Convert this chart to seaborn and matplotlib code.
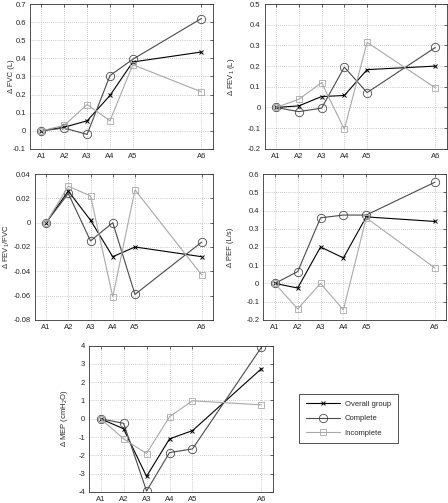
import numpy as np
import pandas as pd
import seaborn as sns
import matplotlib.pyplot as plt
from matplotlib.ticker import FuncFormatter

# visit positions (A6 sits further out on the time axis)
visits = ["A1", "A2", "A3", "A4", "A5", "A6"]
visit_pos = [1, 2, 3, 4, 5, 8]
groups = ["Overall group", "Complete", "Incomplete"]

fvc_overall = [0, 0.02, 0.055, 0.195, 0.38, 0.435]
fvc_complete = [0, 0.015, -0.02, 0.305, 0.395, 0.62]
fvc_incomplete = [0, 0.03, 0.145, 0.055, 0.365, 0.215]

fev1_overall = [0, 0.008, 0.053, 0.058, 0.183, 0.20]
fev1_complete = [0, -0.02, -0.003, 0.195, 0.072, 0.29]
fev1_incomplete = [0, 0.04, 0.12, -0.105, 0.315, 0.095]

ratio_overall = [0, 0.026, 0.002, -0.028, -0.020, -0.028]
ratio_complete = [0, 0.024, -0.015, 0.0, -0.059, -0.016]
ratio_incomplete = [0, 0.030, 0.022, -0.061, 0.027, -0.043]

pef_overall = [0, -0.025, 0.20, 0.14, 0.365, 0.34]
pef_complete = [0, 0.065, 0.36, 0.375, 0.375, 0.555]
pef_incomplete = [0, -0.14, 0.0, -0.145, 0.36, 0.085]

mep_overall = [0, -0.55, -3.15, -1.1, -0.65, 2.73]
mep_complete = [0, -0.25, -3.95, -1.85, -1.65, 3.9]
mep_incomplete = [0, -1.1, -1.9, 0.11, 0.98, 0.76]

panels = [
    ("Δ FVC (L)", [fvc_overall, fvc_complete, fvc_incomplete], (-0.1, 0.7), 0.1),
    ("Δ FEV$_1$ (L)", [fev1_overall, fev1_complete, fev1_incomplete], (-0.2, 0.5), 0.1),
    ("Δ FEV$_1$/FVC", [ratio_overall, ratio_complete, ratio_incomplete], (-0.08, 0.04), 0.02),
    ("Δ PEF (L/s)", [pef_overall, pef_complete, pef_incomplete], (-0.2, 0.6), 0.1),
    ("Δ MEP (cmH$_2$O)", [mep_overall, mep_complete, mep_incomplete], (-4, 4), 1),
]

# axes rectangles in figure fractions, and y-label x offsets (axes fraction)
rects = [
    (0.067, 0.704, 0.408, 0.288),
    (0.591, 0.704, 0.406, 0.288),
    (0.078, 0.364, 0.397, 0.290),
    (0.588, 0.364, 0.408, 0.290),
    (0.199, 0.022, 0.410, 0.291),
]
label_x = [-0.082, -0.151, -0.13, -0.16, -0.103]

styles = {
    "Overall group": dict(color="black", marker="x", markersize=3.5,
                          markeredgewidth=0.7, markeredgecolor="black"),
    "Complete": dict(color="#4a4a4a", marker="o", markersize=6, markeredgewidth=0.6,
                     markeredgecolor="#4a4a4a", markerfacecolor="none"),
    "Incomplete": dict(color="#a8a8a8", marker="s", markersize=4, markeredgewidth=0.6,
                       markeredgecolor="#a8a8a8", markerfacecolor="none"),
}

sns.set_style("white")
plt.rcParams["font.family"] = ["Liberation Sans", "DejaVu Sans"]
plt.rcParams["axes.unicode_minus"] = False
plt.rcParams["mathtext.default"] = "regular"

fig = plt.figure(figsize=(4.48, 5.03), dpi=100)
fmt = FuncFormatter(lambda v, p: "%g" % round(v, 6))

for (ylabel, series, ylim, step), rect, lx in zip(panels, rects, label_x):
    ax = fig.add_axes(rect)
    for name, vals in zip(groups, series):
        df = pd.DataFrame({"pos": visit_pos, "val": vals})
        sns.lineplot(data=df, x="pos", y="val", ax=ax, linewidth=0.8,
                     label=name, legend=False, **styles[name])
    ax.set_xlim(0.5, 8.5)
    ax.set_ylim(*ylim)
    ax.set_xticks(visit_pos)
    ax.set_xticklabels(visits)
    ax.set_yticks(np.arange(ylim[0], ylim[1] + step / 2, step))
    ax.yaxis.set_major_formatter(fmt)
    ax.set_xlabel("")
    ax.set_ylabel(ylabel, fontsize=5.5)
    ax.yaxis.set_label_coords(lx, 0.5)
    ax.grid(True, linestyle=(0, (1, 2)), color="#9a9a9a", linewidth=0.5)
    ax.tick_params(direction="in", length=2, width=0.5, labelsize=5.5,
                   top=True, right=True, pad=3)
    for s in ax.spines.values():
        s.set_color("#333333")
        s.set_linewidth(0.6)

handles, labels = ax.get_legend_handles_labels()
leg = fig.legend(handles, labels, loc="upper left", bbox_to_anchor=(0.667, 0.217),
                 fontsize=5.5, frameon=True, fancybox=False, edgecolor="black",
                 handlelength=4.5, borderpad=0.9, labelspacing=0.9, handletextpad=0.6,
                 borderaxespad=0)
leg.get_frame().set_linewidth(0.6)

fig.savefig("out.png", dpi=100)
